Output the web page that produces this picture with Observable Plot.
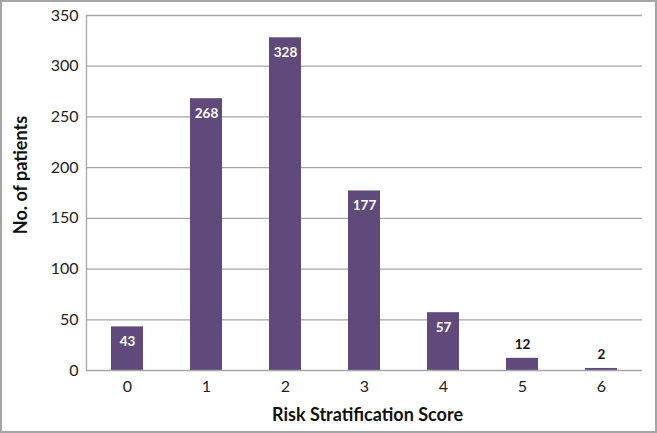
<!DOCTYPE html>
<html>
<head>
<meta charset="utf-8">
<script src="https://cdn.jsdelivr.net/npm/d3@7"></script>
<script src="https://cdn.jsdelivr.net/npm/@observablehq/plot@0.6"></script>
<style>
  html, body { margin: 0; padding: 0; background: #fff; }
  #chart svg { display: block; outline: 2px solid #a6a6a6; outline-offset: -2px; }
</style>
</head>
<body>
<div id="chart"></div>
<script>
const scores = ["0", "1", "2", "3", "4", "5", "6"];
const patients = [43, 268, 328, 177, 57, 12, 2];
const yTicks = [0, 50, 100, 150, 200, 250, 300, 350];

const data = scores.map((s, i) => ({score: s, n: patients[i]}));
const inside = data.filter(d => d.n >= 20);
const outside = data.filter(d => d.n < 20);

const font = "Lato, 'Open Sans', sans-serif";
const purple = "#5f4a7b";

const chart = Plot.plot({
  width: 657,
  height: 433,
  marginLeft: 86,
  marginRight: 15,
  marginTop: 15,
  marginBottom: 63,
  style: {fontFamily: font, fontSize: "16px", color: "#222", background: "#fff"},
  x: {domain: scores, paddingInner: 0.6, paddingOuter: 0.3, label: null},
  y: {domain: [0, 350], label: null},
  marks: [
    Plot.ruleY(yTicks.filter(t => t > 0), {stroke: "#a6a6a6", strokeWidth: 1.3}),
    Plot.barY(data, {x: "score", y: "n", fill: purple}),
    Plot.ruleY([0], {stroke: "#a6a6a6", strokeWidth: 1.3}),
    Plot.frame({anchor: "left", stroke: "#a6a6a6", strokeWidth: 1.3}),
    Plot.axisY({ticks: yTicks, tickSize: 0, tickPadding: 8, fontSize: 16, label: null}),
    Plot.axisX({tickSize: 0, tickPadding: 10, fontSize: 16, label: null}),
    Plot.text(inside, {x: "score", y: "n", text: d => String(d.n), dy: 15, fill: "white", fontWeight: "bold", fontSize: 13.5}),
    Plot.text(outside, {x: "score", y: "n", text: d => String(d.n), dy: -14, fill: "#111", fontWeight: "bold", fontSize: 13.5}),
    Plot.text(["Risk Stratification Score"], {frameAnchor: "bottom", lineAnchor: "middle", dy: 45, dx: 3, fontWeight: "bold", fontSize: 18, fill: "#111"}),
    Plot.text(["No. of patients"], {frameAnchor: "left", textAnchor: "middle", dx: -65, dy: -18, rotate: -90, fontWeight: "bold", fontSize: 18, fill: "#111"})
  ]
});
document.getElementById("chart").appendChild(chart);
</script>
</body>
</html>
